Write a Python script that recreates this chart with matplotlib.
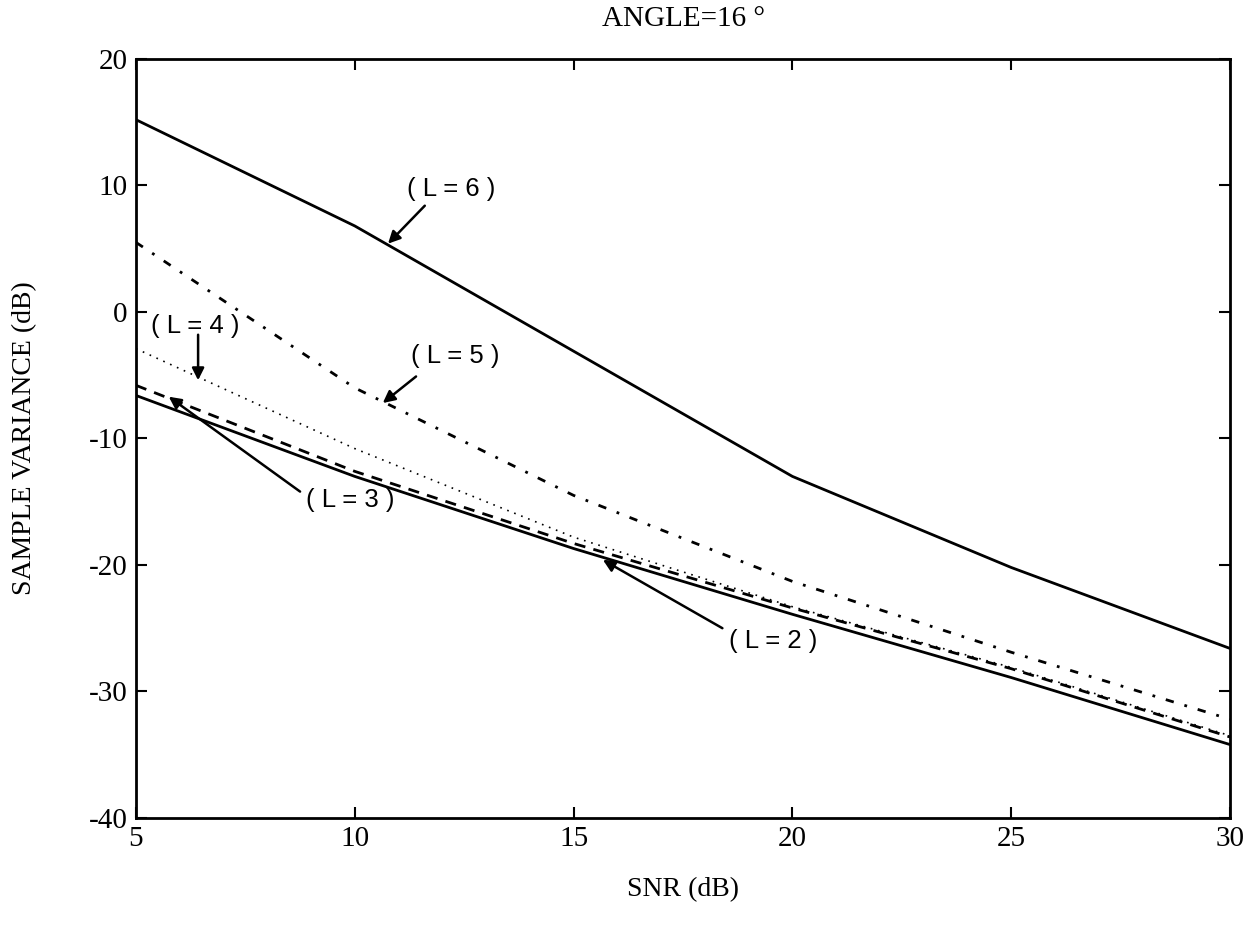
import matplotlib.pyplot as plt
import numpy as np

plt.rcParams['axes.unicode_minus'] = False

# SNR points (dB)
snr = [5, 10, 15, 20, 25, 30]

# sample variance (dB) for each L
var_L2 = [-6.6, -13.0, -18.7, -23.9, -28.9, -34.2]
var_L3 = [-5.8, -12.6, -18.3, -23.4, -28.2, -33.6]
var_L4 = [-2.9, -10.8, -17.8, -23.3, -28.1, -33.5]
var_L5 = [5.5, -6.0, -14.5, -21.3, -26.9, -32.2]
var_L6 = [15.2, 6.8, -3.1, -13.0, -20.2, -26.6]

serif = 'Liberation Serif'
sans = 'Liberation Sans'

fig = plt.figure(figsize=(12.53, 9.33), dpi=100)
ax = fig.add_axes([0.1085, 0.1233, 0.8732, 0.8135])

ax.plot(snr, var_L2, '-', color='black', lw=2)
ax.plot(snr, var_L3, color='black', lw=2, dashes=(4, 3))
ax.plot(snr, var_L4, color='black', lw=1.2, dashes=(1, 3.5))
ax.plot(snr, var_L5, color='black', lw=2, dashes=(3, 4, 1, 4))
ax.plot(snr, var_L6, '-', color='black', lw=2)

ax.set_xlim(5, 30)
ax.set_ylim(-40, 20)
ax.set_xticks([5, 10, 15, 20, 25, 30])
ax.set_yticks([-40, -30, -20, -10, 0, 10, 20])
ax.tick_params(direction='in', length=8, width=1.5, top=True, right=True,
               labelsize=21, pad=6)
for lab in ax.get_xticklabels() + ax.get_yticklabels():
    lab.set_family(serif)
for s in ax.spines.values():
    s.set_linewidth(2)

ax.set_xlabel('SNR (dB)', fontsize=20, family=serif)
ax.xaxis.set_label_coords(0.5, -0.078)
ax.set_ylabel('SAMPLE VARIANCE (dB)', fontsize=20, family=serif)
ax.yaxis.set_label_coords(-0.09, 0.5)
ax.set_title('ANGLE=16 °', fontsize=21, family=serif, pad=24)

# annotations (L=...)
arr = dict(arrowstyle='-|>', color='black', lw=1.8, mutation_scale=18,
           shrinkA=0, shrinkB=0)
labels = ['( L = 6 )', '( L = 5 )', '( L = 4 )', '( L = 3 )', '( L = 2 )']
text_pos = [(12.2, 9.7), (12.3, -3.5), (6.35, -1.1), (9.9, -14.9), (19.55, -26.0)]
arrow_from = [(11.6, 8.4), (11.4, -5.1), (6.42, -1.8), (8.75, -14.2), (18.4, -25.0)]
arrow_to = [(10.76, 5.4), (10.64, -7.2), (6.42, -5.4), (5.75, -6.7), (15.67, -19.6)]

for lab, tp, af, at in zip(labels, text_pos, arrow_from, arrow_to):
    ax.text(tp[0], tp[1], lab, fontsize=18.5, family=sans,
            ha='center', va='center')
    ax.annotate('', xy=at, xytext=af, arrowprops=arr)

plt.savefig('out.png', dpi=100)
